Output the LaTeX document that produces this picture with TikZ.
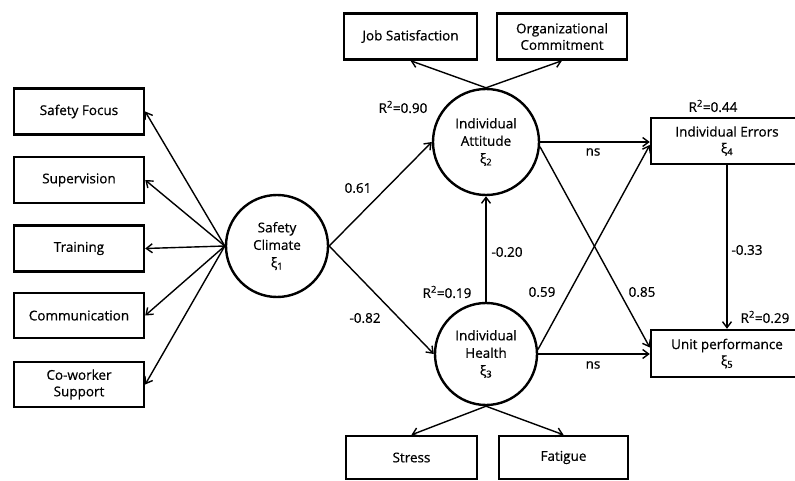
\documentclass[tikz,border=0pt]{standalone}
\usepackage{fontspec}
\setmainfont{Open Sans}[FakeBold=0.6]
\usetikzlibrary{arrows.meta,calc}
\begin{document}
\begin{tikzpicture}[x=1pt,y=-1pt,
  box/.style={draw, line width=2.4pt, minimum width=130pt, minimum height=46pt, inner sep=2pt, align=center, font=\fontsize{13.5}{16.5}\selectfont},
  lat/.style={draw, circle, line width=2.4pt, minimum size=102pt, inner sep=0pt, align=center, font=\fontsize{13.5}{17.5}\selectfont},
  arr/.style={line width=1.4pt, -{Straight Barb[length=6pt,width=9pt]}},
  lbl/.style={font=\fontsize{13.5}{15}\selectfont, inner sep=1pt}]
\useasboundingbox (0,0) rectangle (795,481);
\clip (0,0) rectangle (795,481);
\fill[white] (0,0) rectangle (795,481);
% left indicators
\node[box] (sf) at (79,111.5) {Safety Focus};
\node[box] (sup) at (79,180) {Supervision};
\node[box] (tr) at (79,248.5) {Training};
\node[box, minimum height=45pt] (com) at (79,315.5) {Communication};
\node[box, minimum height=45pt] (cow) at (79,384.5) {Co-worker\\Support};
% latent variables
\node[lat] (sc) at (277,246) {Safety\\Climate\\ξ\textsubscript{1}};
\node[lat, minimum size=106pt] (ia) at (486,142) {Individual\\Attitude\\ξ\textsubscript{2}};
\node[lat] (ih) at (486,354) {Individual\\Health\\ξ\textsubscript{3}};
% top / bottom indicators
\node[box, minimum width=133pt] (js) at (410.5,36.5) {Job Satisfaction};
\node[box] (oc) at (562,36.5) {Organizational\\Commitment};
\node[box, minimum width=131pt, minimum height=43pt] (st) at (411.5,457.5) {Stress};
\node[box, minimum width=129pt, minimum height=43pt] (fa) at (563.5,457.5) {Fatigue};
% outcomes
\node[box, minimum width=152pt] (ie) at (727,141) {Individual Errors\\ξ\textsubscript{4}};
\node[box, minimum width=152pt, minimum height=47pt] (up) at (727,353.5) {Unit performance\\ξ\textsubscript{5}};
% connectors
\draw[arr] (sc.west) -- (sf.east);
\draw[arr] (sc.west) -- (sup.east);
\draw[arr] (sc.west) -- (tr.east);
\draw[arr] (sc.west) -- (com.east);
\draw[arr] (sc.west) -- (cow.east);
\draw[arr] (sc.east) -- (ia.west);
\draw[arr] (sc.east) -- (ih.west);
\draw[arr] (ia.north) -- (js.south);
\draw[arr] (ia.north) -- (oc.south);
\draw[arr] (ih.south) -- (st.north);
\draw[arr] (ih.south) -- (fa.north);
\draw[arr] (ih.north) -- (ia.south);
\draw[arr] (ia.east) -- (ia.east -| ie.west);
\draw[arr] (ih.east) -- (ih.east -| up.west);
\draw[arr] (ia.-5) -- ($(up.west)+(0,-6)$);
\draw[arr] (ih.5) -- ($(ie.west)+(0,4)$);
\draw[arr] (ie.south) -- (up.north);
% labels
\node[lbl] (l61) at (358,188) {0.61};
\node[lbl] (l82) at (365,318) {-0.82};
\node[lbl] (r90) at (403,107) {R\textsuperscript{2}=0.90};
\node[lbl] (r19) at (447,292) {R\textsuperscript{2}=0.19};
\node[lbl] (l20) at (507,252) {-0.20};
\node[lbl] (l59) at (542,292) {0.59};
\node[lbl] (l85) at (642,292) {0.85};
\node[lbl] (ns1) at (593,152) {ns};
\node[lbl] (ns2) at (593,365) {ns};
\node[lbl] (r44) at (713,106) {R\textsuperscript{2}=0.44};
\node[lbl] (l33) at (747,250) {-0.33};
\node[lbl] (r29) at (765,317) {R\textsuperscript{2}=0.29};
\end{tikzpicture}
\end{document}
